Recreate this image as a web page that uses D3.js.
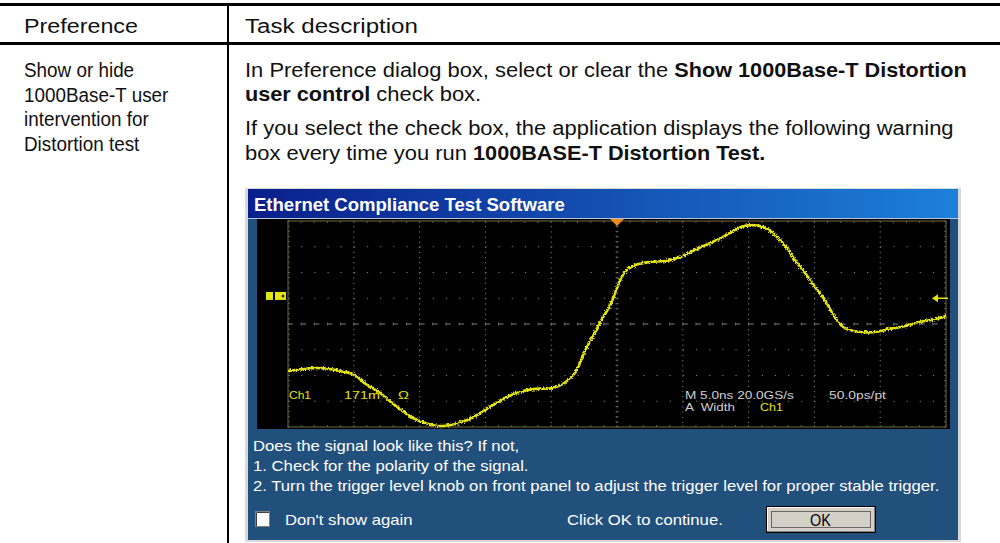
<!DOCTYPE html>
<html>
<head>
<meta charset="utf-8">
<script src="https://cdn.jsdelivr.net/npm/d3@7"></script>
<style>
  body { margin: 0; background: #fff; }
  svg { display: block; }
  text { white-space: pre; }
</style>
</head>
<body>
<script>
// Table text
var headers   = ['Preference', 'Task description'];
var prefLines = ['Show or hide', '1000Base-T user', 'intervention for', 'Distortion test'];
// each task line is a list of [text, bold]
var taskLines = [
  [['In Preference dialog box, select or clear the ', false], ['Show 1000Base-T Distortion', true]],
  [['user control', true], [' check box.', false]],
  [['If you select the check box, the application displays the following warning', false]],
  [['box every time you run ', false], ['1000BASE-T Distortion Test.', true]]
];

// Dialog text
var dialogTitle = 'Ethernet Compliance Test Software';
var dialogLines = [
  'Does the signal look like this? If not,',
  '1. Check for the polarity of the signal.',
  '2. Turn the trigger level knob on front panel to adjust the trigger level for proper stable trigger.'
];
var checkLabel = "Don't show again";
var clickLabel = 'Click OK to continue.';
var okLabel    = 'OK';

// Scope readouts
var readTop    = ['M 5.0ns 20.0GS/s', '50.0ps/pt'];
var readBottom = ['A  Width', 'Ch1'];
var chLabel    = ['Ch1', '171m', 'Ω'];

// Waveform (time in ns from trigger, level in divisions)
var timeNs = [-25, -22.7, -20.7, -19.9, -19.2, -18.0, -16.9, -15.5, -14.6, -13.5,
              -12.3, -11.2, -9.9, -8.5, -7.4, -6.2, -4.9, -4.0, -3.2, -2.4,
              -1.7, -1.1, -0.5, 0, 0.6, 1.4, 2.5, 3.7, 4.8, 5.9,
              7.1, 8.2, 9.4, 10.3, 11.3, 12.0, 12.8, 13.5, 14.3, 15.1,
              15.8, 16.6, 17.3, 18.5, 19.6, 20.7, 21.9, 23.0, 24.2, 25];
var levelDiv = [-1.83, -1.71, -1.86, -1.98, -2.29, -2.68, -3.15, -3.65, -3.84, -3.96,
                -3.88, -3.69, -3.30, -2.87, -2.64, -2.52, -2.49, -2.29, -1.90, -1.01,
                -0.35, 0.23, 0.74, 1.40, 2.02, 2.29, 2.41, 2.45, 2.60, 2.87,
                3.15, 3.42, 3.77, 3.84, 3.73, 3.46, 3.03, 2.49, 1.98, 1.40,
                0.93, 0.23, -0.16, -0.31, -0.31, -0.19, -0.08, 0.08, 0.19, 0.31];
var chLevel = 1.09;
var trigLevel = 1.0;

var width  = 1000;
var height = 543;
var docFont = "'Liberation Sans Narrow', 'Arial Narrow', 'Liberation Sans', Arial, sans-serif";
var winFont = "'Liberation Sans', Arial, sans-serif";

var svg = d3.select('body').append('svg')
    .attr('width', width)
    .attr('height', height);

var defs = svg.append('defs');
var grad = defs.append('linearGradient').attr('id', 'titleGrad');
grad.append('stop').attr('offset', '0%').attr('stop-color', '#0a1f8c');
grad.append('stop').attr('offset', '100%').attr('stop-color', '#1d80d8');

var noise = defs.append('filter').attr('id', 'jitter')
    .attr('x', '-5%').attr('y', '-10%').attr('width', '110%').attr('height', '120%');
noise.append('feTurbulence').attr('type', 'fractalNoise')
    .attr('baseFrequency', 0.6).attr('numOctaves', 2).attr('seed', 4).attr('result', 'n');
noise.append('feDisplacementMap').attr('in', 'SourceGraphic').attr('in2', 'n')
    .attr('scale', 4).attr('xChannelSelector', 'R').attr('yChannelSelector', 'G');

// place a text so that its width is w, starting at x
function fit(t, x, y, w) {
  t.attr('x', 0).attr('y', 0);
  var len = t.node().getComputedTextLength();
  t.attr('transform', 'translate(' + x + ',' + y + ') scale(' + (w / len) + ',1)');
  return w / len;
}
function stretch(t, x, y, k) {
  t.attr('x', 0).attr('y', 0)
    .attr('transform', 'translate(' + x + ',' + y + ') scale(' + k + ',1)');
  return t.node().getComputedTextLength() * k;
}

// ---- document table ----
var doc = svg.append('g');
doc.append('rect').attr('x', 0).attr('y', 3).attr('width', width).attr('height', 3).attr('fill', '#000');
doc.append('rect').attr('x', 0).attr('y', 42).attr('width', width).attr('height', 3).attr('fill', '#000');
doc.append('rect').attr('x', 227).attr('y', 5).attr('width', 2).attr('height', height).attr('fill', '#000');

function docText(str, bold) {
  return doc.append('text')
      .attr('font-family', docFont)
      .attr('font-size', 21)
      .attr('fill', '#111')
      .attr('font-weight', bold ? 'bold' : 'normal')
      .text(str);
}

// regular stretch from the all-regular line, bold stretch from the first line
var kReg = fit(docText(taskLines[2][0][0], false), 245, 135, 709);
fit(docText(headers[0], false), 24, 33, 114);
fit(docText(headers[1], false), 245, 33, 173);

var regW = stretch(docText(taskLines[0][0][0], false), 245, 77, kReg);
var kBold = fit(docText(taskLines[0][1][0], true), 245 + regW, 77, 722 - regW);

function segLine(line, y) {
  var x = 245;
  line.forEach(function (s) {
    x += stretch(docText(s[0], s[1]), x, y, s[1] ? kBold : kReg);
  });
}
segLine(taskLines[1], 101);
segLine(taskLines[3], 160);

var kLeft = kReg * 0.86;
prefLines.forEach(function (s, i) {
  stretch(docText(s, false), 24, 77 + i * 24.5, kLeft);
});

// ---- dialog window ----
var win = svg.append('g');
win.append('rect').attr('x', 245).attr('y', 188).attr('width', 716).attr('height', 354)
    .attr('fill', '#d8d8d8');
win.append('rect').attr('x', 248).attr('y', 189).attr('width', 710).attr('height', 351)
    .attr('fill', '#22507d');
win.append('rect').attr('x', 248).attr('y', 189).attr('width', 710).attr('height', 29)
    .attr('fill', 'url(#titleGrad)');
win.append('rect').attr('x', 248).attr('y', 218).attr('width', 710).attr('height', 1)
    .attr('fill', '#b8c4d8');

fit(win.append('text')
    .attr('font-family', winFont).attr('font-size', 18).attr('font-weight', 'bold')
    .attr('fill', '#fff').text(dialogTitle), 254, 211, 311);

// scope screen
var scope = win.append('g');
scope.append('rect').attr('x', 257).attr('y', 219).attr('width', 693).attr('height', 210)
    .attr('fill', '#000');

var xScale = d3.scaleLinear().domain([-25, 25]).range([288, 946]);
var yScale = d3.scaleLinear().domain([-4, 4]).range([427, 221]);

var gridCol = '#7e7e7e';
var grid = scope.append('g');
d3.range(-20, 21, 5).forEach(function (t) {
  grid.append('line')
      .attr('x1', xScale(t)).attr('x2', xScale(t))
      .attr('y1', yScale(4)).attr('y2', yScale(-4))
      .attr('stroke', gridCol).attr('stroke-width', 1)
      .attr('stroke-dasharray', '1.2,3.95');
});
d3.range(-3, 4, 1).forEach(function (v) {
  grid.append('line')
      .attr('x1', xScale(-25)).attr('x2', xScale(25))
      .attr('y1', yScale(v)).attr('y2', yScale(v))
      .attr('stroke', gridCol).attr('stroke-width', 1)
      .attr('stroke-dasharray', v === 0 ? '5,8.16' : '1.2,11.96');
});
// centre axis and edge ticks
d3.range(-25, 25.01, 1).forEach(function (t) {
  grid.append('line')
      .attr('x1', xScale(t)).attr('x2', xScale(t))
      .attr('y1', yScale(0) - 1.5).attr('y2', yScale(0) + 1.5)
      .attr('stroke', gridCol).attr('stroke-width', 0.8);
  grid.append('line')
      .attr('x1', xScale(t)).attr('x2', xScale(t))
      .attr('y1', yScale(4)).attr('y2', yScale(4) + 2)
      .attr('stroke', gridCol).attr('stroke-width', 0.8);
  grid.append('line')
      .attr('x1', xScale(t)).attr('x2', xScale(t))
      .attr('y1', yScale(-4)).attr('y2', yScale(-4) - 2)
      .attr('stroke', gridCol).attr('stroke-width', 0.8);
});
d3.range(-4, 4.01, 0.2).forEach(function (v) {
  grid.append('line')
      .attr('x1', xScale(0) - 1.5).attr('x2', xScale(0) + 1.5)
      .attr('y1', yScale(v)).attr('y2', yScale(v))
      .attr('stroke', gridCol).attr('stroke-width', 0.7);
  grid.append('line')
      .attr('x1', xScale(-25)).attr('x2', xScale(-25) + 2)
      .attr('y1', yScale(v)).attr('y2', yScale(v))
      .attr('stroke', gridCol).attr('stroke-width', 0.7);
  grid.append('line')
      .attr('x1', xScale(25)).attr('x2', xScale(25) - 2)
      .attr('y1', yScale(v)).attr('y2', yScale(v))
      .attr('stroke', gridCol).attr('stroke-width', 0.7);
});
grid.append('rect')
    .attr('x', xScale(-25)).attr('y', yScale(4))
    .attr('width', xScale(25) - xScale(-25)).attr('height', yScale(-4) - yScale(4))
    .attr('fill', 'none').attr('stroke', '#5c5a3c').attr('stroke-width', 1.2);

// markers
var yellow = '#e4e414';
scope.append('rect').attr('x', 266).attr('y', yScale(chLevel) - 4).attr('width', 7).attr('height', 8).attr('fill', yellow);
scope.append('rect').attr('x', 275).attr('y', yScale(chLevel) - 4).attr('width', 11).attr('height', 8).attr('fill', yellow);
scope.append('circle').attr('cx', 283).attr('cy', yScale(chLevel)).attr('r', 1.5).attr('fill', '#333');
scope.append('line')
    .attr('x1', xScale(25) - 12).attr('x2', xScale(25) + 2)
    .attr('y1', yScale(trigLevel)).attr('y2', yScale(trigLevel))
    .attr('stroke', yellow).attr('stroke-width', 1.5);
scope.append('path')
    .attr('d', d3.line()([[xScale(25) - 14, yScale(trigLevel)], [xScale(25) - 8, yScale(trigLevel) - 4], [xScale(25) - 8, yScale(trigLevel) + 4]]))
    .attr('fill', yellow);
scope.append('path')
    .attr('d', d3.line()([[xScale(0) - 7, 219], [xScale(0) + 7, 219], [xScale(0), 226]]))
    .attr('fill', '#f08a1e');

// trace
var trace = d3.line()
    .x(function (d) { return xScale(d[0]); })
    .y(function (d) { return yScale(d[1]); })
    .curve(d3.curveCatmullRom.alpha(0.5));
var pts = d3.zip(timeNs, levelDiv);
scope.append('path')
    .attr('d', trace(pts))
    .attr('fill', 'none').attr('stroke', yellow).attr('stroke-width', 2.6)
    .attr('stroke-linejoin', 'round')
    .attr('filter', 'url(#jitter)');

// readouts
function scopeText(str, color, x, y, w) {
  fit(scope.append('text')
      .attr('font-family', winFont).attr('font-size', 11)
      .attr('fill', color).text(str), x, y, w);
}
scopeText(chLabel[0], yellow, 289, 399, 22);
scopeText(chLabel[1], yellow, 344, 399, 36);
scopeText(chLabel[2], yellow, 398, 399, 11);
scopeText(readTop[0], '#cfcfcf', 685, 399, 109);
scopeText(readTop[1], '#cfcfcf', 829, 399, 57);
scopeText(readBottom[0], '#cfcfcf', 685, 411, 50);
scopeText(readBottom[1], yellow, 760, 411, 23);

// dialog text
var kWin = fit(win.append('text')
    .attr('font-family', winFont).attr('font-size', 15).attr('fill', '#fff')
    .text(dialogLines[2]), 253, 491, 687);
dialogLines.slice(0, 2).forEach(function (s, i) {
  stretch(win.append('text')
      .attr('font-family', winFont).attr('font-size', 15).attr('fill', '#fff')
      .text(s), 253, 451 + i * 20, kWin);
});

// checkbox
win.append('rect').attr('x', 255.5).attr('y', 511.5).attr('width', 14).attr('height', 15)
    .attr('fill', '#fff').attr('stroke', '#808080');
win.append('path').attr('d', 'M256.5,526 V512.5 H269').attr('stroke', '#404040').attr('fill', 'none');
stretch(win.append('text')
    .attr('font-family', winFont).attr('font-size', 15).attr('fill', '#fff')
    .text(checkLabel), 285, 525, kWin);
stretch(win.append('text')
    .attr('font-family', winFont).attr('font-size', 15).attr('fill', '#fff')
    .text(clickLabel), 567, 525, kWin);

// OK button
win.append('rect').attr('x', 766).attr('y', 506).attr('width', 110).attr('height', 27).attr('fill', '#000');
win.append('rect').attr('x', 767).attr('y', 507).attr('width', 108).attr('height', 25).attr('fill', '#808080');
win.append('rect').attr('x', 767).attr('y', 507).attr('width', 107).attr('height', 24).attr('fill', '#fff');
win.append('rect').attr('x', 768).attr('y', 508).attr('width', 106).attr('height', 23).attr('fill', '#d4d0c8');
win.append('rect').attr('x', 771.5).attr('y', 511.5).attr('width', 99).attr('height', 16)
    .attr('fill', 'none').attr('stroke', '#000').attr('stroke-dasharray', '1,1');
stretch(win.append('text')
    .attr('font-family', winFont).attr('font-size', 16).attr('fill', '#000')
    .text(okLabel), 810, 526, 0.9);
</script>
</body>
</html>
